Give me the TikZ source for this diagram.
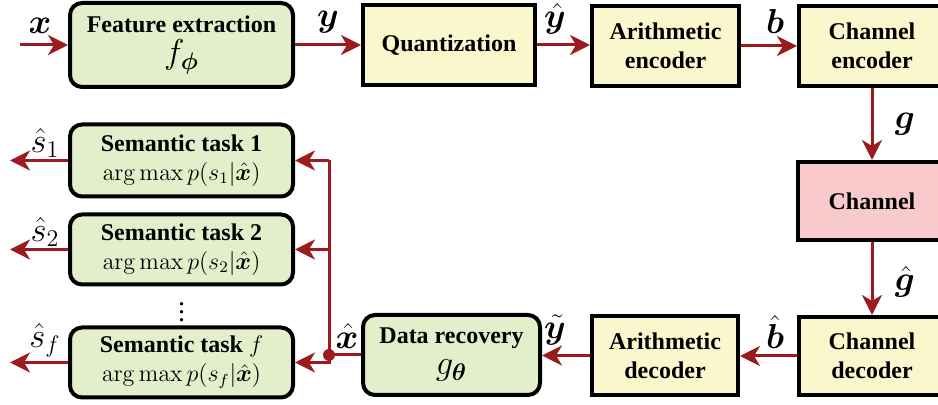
\documentclass[tikz,border=0pt]{standalone}
\usepackage{amsmath}
\usepackage{bm}
\usepackage[no-math]{fontspec}
\setmainfont{Liberation Serif}
\usepackage{tikz}
\usetikzlibrary{arrows.meta, positioning, calc}
\definecolor{boxgreen}{HTML}{E3EFCA}
\definecolor{boxyellow}{HTML}{FAF7CD}
\definecolor{boxpink}{HTML}{F8CACB}
\definecolor{arrowred}{HTML}{9B1B1F}

\begin{document}
\begin{tikzpicture}[x=0.5pt, y=-0.5pt,
	block/.style={draw=black, line width=2pt, align=center, inner sep=0pt,
		font=\fontsize{12}{14.5}\selectfont\bfseries},
	greenbox/.style={block, fill=boxgreen, rounded corners=6pt},
	yellowbox/.style={block, fill=boxyellow},
	pinkbox/.style={block, fill=boxpink},
	wire/.style={draw=arrowred, line width=1.5pt},
	flow/.style={wire, -{Stealth[length=10pt, width=10pt, inset=3pt]}},
	lbl/.style={font=\fontsize{17}{19}\selectfont}]
			\useasboundingbox (0,0) rectangle (938,405);
			%% top row
			\node[greenbox, minimum width=111.5pt, minimum height=42pt] (fe) at (181.5,45) {Feature extraction\\[1pt] {\fontsize{17}{19}\selectfont$f_{\bm\phi}$}};
			\node[yellowbox, minimum width=86pt, minimum height=40pt] (quant) at (449,45) {Quantization};
			\node[yellowbox, minimum width=73.5pt, minimum height=40pt] (arenc) at (665.5,46) {Arithmetic\\ encoder};
			\node[yellowbox, minimum width=73pt, minimum height=40pt] (chenc) at (872,46) {Channel\\ encoder};
			%% channel
			\node[pinkbox, minimum width=74pt, minimum height=39pt] (chan) at (872,201) {Channel};
			%% bottom row
			\node[yellowbox, minimum width=73pt, minimum height=39pt] (chdec) at (872,356) {Channel\\ decoder};
			\node[yellowbox, minimum width=73pt, minimum height=39.5pt] (ardec) at (665,355.5) {Arithmetic\\ decoder};
			\node[greenbox, minimum width=88.5pt, minimum height=40pt] (rec) at (451.5,355) {Data recovery\\[1pt] {\fontsize{17}{19}\selectfont$g_{\bm\theta}$}};
			%% semantic tasks
			\node[greenbox, minimum width=111.5pt, minimum height=36pt] (st1) at (181.5,160.5) {Semantic task 1\\ \mdseries$\arg\max p(s_1|\hat{\bm x})$};
			\node[greenbox, minimum width=111.5pt, minimum height=35pt] (st2) at (181.5,249.5) {Semantic task 2\\ \mdseries$\arg\max p(s_2|\hat{\bm x})$};
			\node[greenbox, minimum width=111.5pt, minimum height=35pt] (stf) at (181.5,362.5) {Semantic task $f$\\ \mdseries$\arg\max p(s_f|\hat{\bm x})$};
			\node[font=\fontsize{14}{16}\selectfont] (dots) at (181.5,306) {$\vdots$};
			
			\coordinate (xin) at (20,45);
			\coordinate (split) at (329,355);
			\coordinate (s1out) at (10,160.5);
			\coordinate (s2out) at (10,249.5);
			\coordinate (sfout) at (10,362.5);
			
			\draw[flow] (xin) -- (fe.west);
			\draw[flow] (fe.east) -- (fe.east -| quant.west);
			\draw[flow] (quant.east) -- (quant.east -| arenc.west);
			\draw[flow] (arenc.east) -- (chenc.west);
			\draw[flow] (chenc) -- (chan);
			\draw[flow] (chan) -- (chdec);
			\draw[flow] (chdec.west) -- (chdec.west -| ardec.east);
			\draw[flow] (ardec.west) -- (ardec.west -| rec.east);
			\draw[wire] (rec.west) -- (split);
			\draw[wire] (split |- st1.east) -- (split);
			\draw[flow] (split) |- (stf.east);
			\draw[flow] (split |- st1.east) -- (st1.east);
			\draw[flow] (split |- st2.east) -- (st2.east);
			\fill[arrowred] (split) circle (3pt);
			\draw[flow] (st1.west) -- (s1out);
			\draw[flow] (st2.west) -- (s2out);
			\draw[flow] (stf.west) -- (sfout);
			
			%% signal labels
			\node[lbl] (xlbl) at (40,26) {$\bm x$};
			\node[lbl] (ylbl) at (328,22) {$\bm y$};
			\node[lbl] (yhlbl) at (555,19) {$\hat{\bm y}$};
			\node[lbl] (blbl) at (775,22) {$\bm b$};
			\node[lbl] (glbl) at (905,124) {$\bm g$};
			\node[lbl] (ghlbl) at (905,282) {$\hat{\bm g}$};
			\node[lbl] (bhlbl) at (775,332) {$\hat{\bm b}$};
			\node[lbl] (ytlbl) at (555,330) {$\tilde{\bm y}$};
			\node[lbl] (xhlbl) at (347,336) {$\hat{\bm x}$};
			\node[lbl] (s1lbl) at (45,143) {$\hat s_1$};
			\node[lbl] (s2lbl) at (45,232) {$\hat s_2$};
			\node[lbl] (sflbl) at (45,340) {$\hat s_f$};
\end{tikzpicture}
\end{document}
